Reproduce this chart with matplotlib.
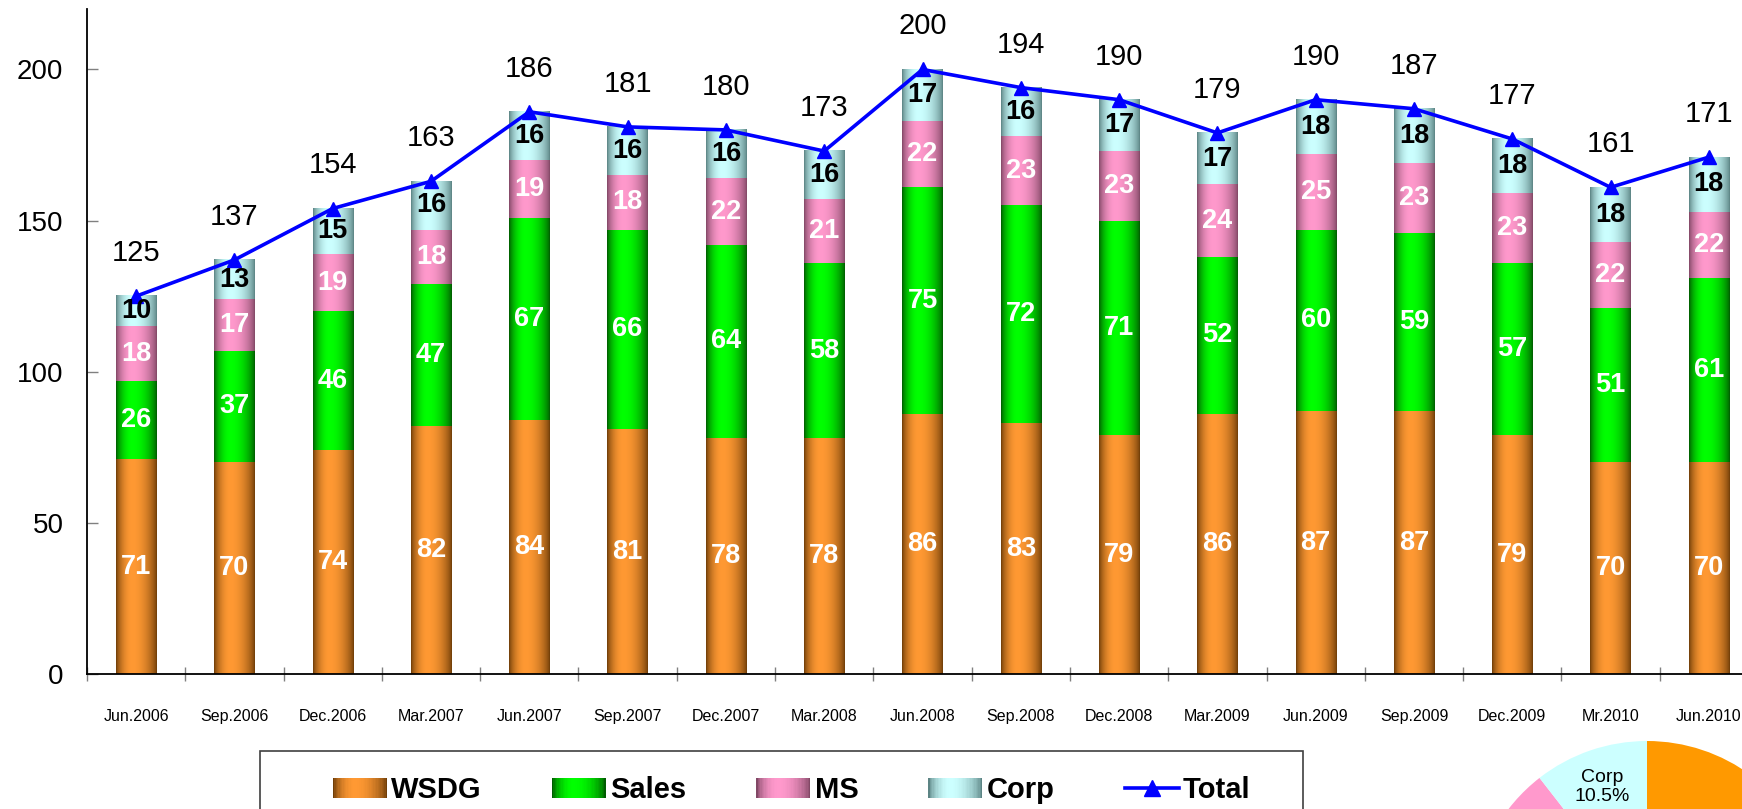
import numpy as np
import matplotlib
matplotlib.use("Agg")
import matplotlib.pyplot as plt
from matplotlib.patches import Rectangle
from matplotlib.lines import Line2D
from matplotlib.legend_handler import HandlerBase

# ---------------- data ----------------
categories = ["Jun.2006", "Sep.2006", "Dec.2006", "Mar.2007", "Jun.2007", "Sep.2007",
              "Dec.2007", "Mar.2008", "Jun.2008", "Sep.2008", "Dec.2008", "Mar.2009",
              "Jun.2009", "Sep.2009", "Dec.2009", "Mr.2010", "Jun.2010"]
wsdg = [71, 70, 74, 82, 84, 81, 78, 78, 86, 83, 79, 86, 87, 87, 79, 70, 70]
sales = [26, 37, 46, 47, 67, 66, 64, 58, 75, 72, 71, 52, 60, 59, 57, 51, 61]
ms = [18, 17, 19, 18, 19, 18, 22, 21, 22, 23, 23, 24, 25, 23, 23, 22, 22]
corp = [10, 13, 15, 16, 16, 16, 16, 16, 17, 16, 17, 17, 18, 18, 18, 18, 18]
total = [125, 137, 154, 163, 186, 181, 180, 173, 200, 194, 190, 179, 190, 187, 177, 161, 171]
series_names = ["WSDG", "Sales", "MS", "Corp"]
yticks = [0, 50, 100, 150, 200]

# pie (latest quarter)
pie_names = ["WSDG", "Sales", "MS", "Corp"]
pie_values = [70, 61, 22, 18]

# ---------------- style ----------------
SANS = ["Liberation Sans", "DejaVu Sans"]
NARROW = ["Liberation Sans Narrow", "Liberation Sans", "DejaVu Sans"]
plt.rcParams["font.family"] = SANS

dark = {"WSDG": (112, 62, 8), "Sales": (0, 92, 0), "MS": (130, 72, 102), "Corp": (92, 132, 132)}
light = {"WSDG": (255, 153, 51), "Sales": (0, 255, 0), "MS": (255, 153, 204), "Corp": (204, 255, 255)}
label_color = {"WSDG": "white", "Sales": "white", "MS": "white", "Corp": "black"}
pie_colors = ["#FF9900", "#00DD00", "#FF99CC", "#CCFFFF"]


def gradient(name, n=64):
    t = np.linspace(0, 1, n)
    s = np.where(t < 0.4, t / 0.4 * 0.5, 0.5 + (t - 0.4) / 0.6 * 0.5)
    g = np.sin(np.pi * s) ** 0.7
    d = np.array(dark[name]) / 255.0
    l = np.array(light[name]) / 255.0
    return d[None, :] * (1 - g[:, None]) + l[None, :] * g[:, None]


W, H = 1742, 809
fig = plt.figure(figsize=(W / 100, H / 100), dpi=100)
ax = fig.add_axes([87 / W, 135 / H, 1671 / W, 665 / H])

x = np.arange(len(categories))
bar_w = 0.41
bottom = np.zeros(len(categories))
series = [wsdg, sales, ms, corp]
for name, vals in zip(series_names, series):
    vals = np.array(vals, dtype=float)
    bars = ax.bar(x, vals, bar_w, bottom=bottom, facecolor="none", edgecolor="none", zorder=2)
    grad = gradient(name)[None, :, :]
    for rect in bars:
        x0, y0 = rect.get_x(), rect.get_y()
        ax.imshow(grad, extent=[x0, x0 + rect.get_width(), y0, y0 + rect.get_height()],
                  aspect="auto", interpolation="bilinear", zorder=2)
    for xi, b, v in zip(x, bottom, vals):
        ax.text(xi, b + v / 2, f"{int(v)}", ha="center", va="center", color=label_color[name],
                fontsize=19.5, fontweight="bold", family=SANS, zorder=5)
    bottom = bottom + vals

ax.plot(x, total, color="#0000FF", lw=2.6, marker="^", markersize=10, zorder=4)
for xi, t in zip(x, total):
    ax.annotate(f"{t}", (xi, t), xytext=(0, 31), textcoords="offset points",
                ha="center", va="center", fontsize=21, color="black")

ax.set_xlim(-0.5, len(categories) - 0.5)
ax.set_ylim(0, 220)
ax.set_yticks(yticks)
ax.set_yticklabels([str(v) for v in yticks], fontsize=20)
ax.tick_params(axis="y", direction="in", length=8, color="#808080", pad=17, width=1)
ax.set_xticks(x)
ax.set_xticklabels(categories, fontsize=11.5)
ax.tick_params(axis="x", which="major", length=0, pad=25)
ax.set_xticks(np.arange(-0.5, len(categories), 1.0), minor=True)
ax.tick_params(axis="x", which="minor", direction="inout", length=10, color="#808080", width=1)
for s in ["top", "right"]:
    ax.spines[s].set_visible(False)
for s in ["left", "bottom"]:
    ax.spines[s].set_color("black")
    ax.spines[s].set_linewidth(1.3)


# ---------------- legend ----------------
class GradHandler(HandlerBase):
    def __init__(self, name):
        super().__init__()
        self.name = name

    def create_artists(self, legend, orig_handle, xdescent, ydescent, width, height, fontsize, trans):
        cols = gradient(self.name, 40)
        n = len(cols)
        arts = []
        for i, c in enumerate(cols):
            arts.append(Rectangle((-xdescent + width * i / n, -ydescent), width / n * 1.08, height,
                                  facecolor=c, edgecolor="none", transform=trans))
        return arts


handles = [Rectangle((0, 0), 1, 1) for _ in series_names]
handles.append(Line2D([], [], color="#0000FF", lw=2.6, marker="^", markersize=11))
hmap = {h: GradHandler(n) for h, n in zip(handles[:4], series_names)}
leg = fig.legend(handles, series_names + ["Total"], handler_map=hmap, ncol=5,
                 loc="center left", bbox_to_anchor=(333 / W, 1 - 790 / H),
                 frameon=False, borderpad=0, borderaxespad=0, handlelength=1.85,
                 handleheight=0.68, handletextpad=0.15, columnspacing=2.4,
                 prop={"family": NARROW, "weight": "bold", "size": 21})
fig.add_artist(Rectangle((260 / W, -0.1), (1303 - 260) / W, 0.1 + (809 - 751) / H,
                         transform=fig.transFigure, facecolor="none", edgecolor="#404040", lw=1.2))

# ---------------- pie (partly outside the figure) ----------------
R = 175
cx, cy = 1647, 809 - 916
pax = fig.add_axes([(cx - R) / W, (cy - R) / H, 2 * R / W, 2 * R / H])
tot = sum(pie_values)
pie_labels = [f"{n}\n{v / tot * 100:.1f}%" for n, v in zip(pie_names, pie_values)]
pax.pie(pie_values, colors=pie_colors, startangle=90, counterclock=False, labels=pie_labels,
        labeldistance=0.78, textprops={"ha": "center", "va": "center", "fontsize": 14,
                                       "linespacing": 1.1, "color": "black"})
pax.set_xlim(-1, 1)
pax.set_ylim(-1, 1)
pax.set_aspect("auto")
pax.axis("off")

fig.savefig("out.png", dpi=100)
